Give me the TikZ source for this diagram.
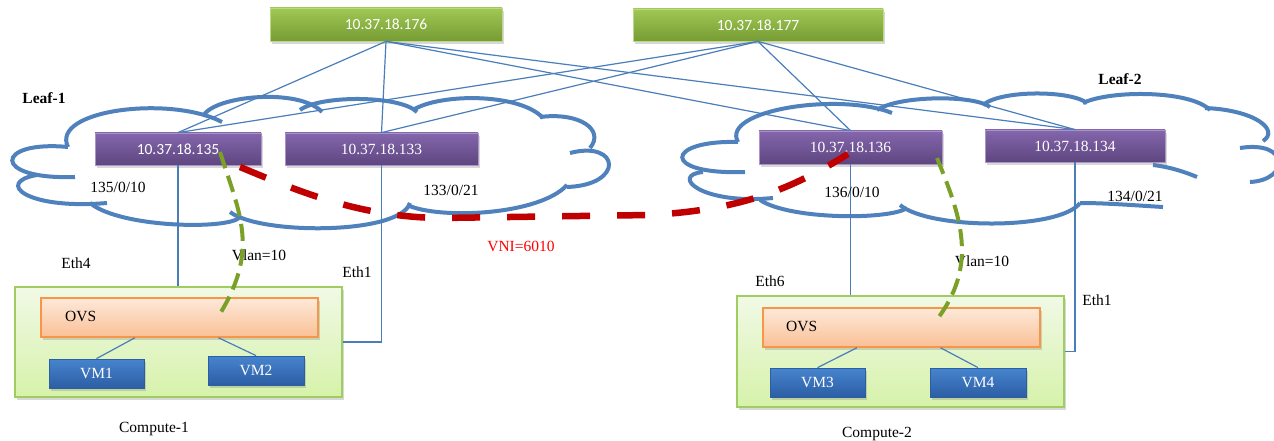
\documentclass[tikz,border=0pt]{standalone}
\usepackage{fontspec}
\setmainfont{Liberation Serif}
\newfontfamily\calibfont{Carlito}
\usetikzlibrary{calc, shadows}

\definecolor{linkblue}{RGB}{74,126,187}
\definecolor{cloudblue}{RGB}{79,129,189}
\definecolor{vnidash}{RGB}{192,0,0}
\definecolor{vnitext}{RGB}{255,0,0}
\definecolor{vlandash}{RGB}{122,160,40}
\definecolor{spinetop}{RGB}{160,200,84}
\definecolor{spinebot}{RGB}{118,156,52}
\definecolor{leaftop}{RGB}{132,102,172}
\definecolor{leafbot}{RGB}{94,70,128}
\definecolor{vmtop}{RGB}{70,132,206}
\definecolor{vmbot}{RGB}{44,94,164}
\definecolor{hosttop}{RGB}{241,249,230}
\definecolor{hostbot}{RGB}{214,242,170}
\definecolor{hostline}{RGB}{160,205,95}
\definecolor{ovstop}{RGB}{253,233,217}
\definecolor{ovsbot}{RGB}{250,192,150}
\definecolor{ovsline}{RGB}{247,150,70}

\newcommand\labelsize{\fontsize{15.5}{18}\selectfont}

\tikzset{
  lbl/.style={inner sep=0pt, font=\labelsize},
  boxshadow/.style={drop shadow={opacity=.3, shadow xshift=2pt, shadow yshift=-3pt}},
  spine/.style={boxshadow, top color=spinetop, bottom color=spinebot,
    draw=spinetop!70!white, line width=.8pt, text=white, inner sep=0pt,
    font=\calibfont\labelsize},
  leaf/.style={boxshadow, top color=leaftop, bottom color=leafbot,
    draw=leaftop!70!white, line width=.8pt, text=white, inner sep=0pt,
    minimum height=32pt, font=\labelsize},
  host/.style={boxshadow, top color=hosttop, bottom color=hostbot,
    draw=hostline, line width=1.5pt, minimum width=327pt},
  ovs/.style={boxshadow, top color=ovstop, bottom color=ovsbot,
    draw=ovsline, line width=1.5pt, minimum width=277pt, minimum height=39pt},
  vm/.style={boxshadow, top color=vmtop, bottom color=vmbot,
    draw=vmbot, line width=.8pt, text=white, inner sep=0pt,
    minimum width=95pt, minimum height=29pt, font=\labelsize},
  cloudline/.style={draw=cloudblue, line width=4pt},
  link/.style={draw=linkblue, line width=1.2pt},
  vni/.style={draw=vnidash, line width=6.5pt, dash pattern=on 28pt off 27pt},
  vlan/.style={draw=vlandash, line width=4pt, dash pattern=on 17pt off 8pt}
}

\begin{document}
\begin{tikzpicture}[x=1pt, y=-1pt]
\fill[white] (0,0) rectangle (1274,441);
\useasboundingbox (0,0) rectangle (1274,441);
% Cloud round Leaf-1
\draw[cloudline] (75,177) .. controls (-10,180) and (-5,140) .. (68,147);
\draw[cloudline] (68,147) .. controls (50,110) and (170,95) .. (222,122);
\draw[cloudline] (203,116) .. controls (215,95) and (300,88) .. (322,112);
\draw[cloudline] (300,110) .. controls (320,95) and (400,95) .. (417,112);
\draw[cloudline] (413,110) .. controls (440,93) and (520,93) .. (543,118);
\draw[cloudline] (540,117) .. controls (580,112) and (605,130) .. (590,148);
\draw[cloudline] (570,153) .. controls (620,140) and (625,185) .. (567,187);
\draw[cloudline] (567,185) .. controls (540,215) and (440,220) .. (407,205);
\draw[cloudline] (410,203) .. controls (400,235) and (260,235) .. (230,212);
\draw[cloudline] (240,217) .. controls (230,230) and (120,228) .. (90,203);
\draw[cloudline] (107,203) .. controls (25,210) and (-5,182) .. (37,175);
% Cloud round Leaf-2
\draw[cloudline] (745,172) .. controls (660,175) and (665,140) .. (738,142);
\draw[cloudline] (738,142) .. controls (720,110) and (840,92) .. (892,113);
\draw[cloudline] (877,110) .. controls (900,95) and (975,95) .. (990,107);
\draw[cloudline] (983,105) .. controls (1000,90) and (1070,90) .. (1087,103);
\draw[cloudline] (1083,103) .. controls (1110,90) and (1190,90) .. (1210,110);
\draw[cloudline] (1205,108) .. controls (1255,110) and (1280,130) .. (1263,141);
\draw[cloudline] (1240,148) .. controls (1290,140) and (1290,180) .. (1250,182);
\draw[cloudline] (1153,165) .. controls (1170,167) and (1185,172) .. (1197,177);
\draw[cloudline] (1163,207) .. controls (1130,205) and (1105,203) .. (1080,203);
\draw[cloudline] (1080,203) .. controls (1060,230) and (930,230) .. (900,205);
\draw[cloudline] (907,208) .. controls (890,220) and (790,220) .. (760,200);
\draw[cloudline] (773,198) .. controls (700,205) and (670,175) .. (703,172);
% Spine switches
\node[spine, minimum width=232pt, minimum height=33pt] (s176) at (386,24.5) {10.37.18.176};
\node[spine, minimum width=250pt, minimum height=32pt] (s177) at (758,25) {10.37.18.177};
% Leaf switches
\node[leaf, font=\calibfont\labelsize, minimum width=166pt] (l135) at (178,149) {10.37.18.135};
\node[leaf, minimum width=193pt] (l133) at (381.5,149) {10.37.18.133};
\node[leaf, minimum width=183pt, minimum height=33pt] (l136) at (850.5,147.5) {10.37.18.136};
\node[leaf, minimum width=180pt] (l134) at (1075,146) {10.37.18.134};
\node[lbl, font=\labelsize\bfseries] (leaf1) at (44,98) {Leaf-1};
\node[lbl, font=\labelsize\bfseries] (leaf2) at (1120,79) {Leaf-2};
% Compute nodes
\node[host, minimum height=110pt] (c1) at (178.5,342) {};
\node[host, minimum height=111pt] (c2) at (900.5,351.5) {};
\node[ovs] (ovs1) at (179.5,317.5) {};
\node[ovs] (ovs2) at (901.5,327.5) {};
\node[lbl, anchor=west] (ovs1t) at (65,316) {OVS};
\node[lbl, anchor=west] (ovs2t) at (786,326) {OVS};
\node[vm] (vm1) at (96.5,373.5) {VM1};
\node[vm, minimum width=96pt] (vm2) at (256,370.5) {VM2};
\node[vm] (vm3) at (817.5,382.5) {VM3};
\node[vm, minimum width=96pt] (vm4) at (978,382.5) {VM4};
\node[lbl] (comp1) at (154,429) {Compute-1};
\node[lbl] (comp2) at (877,434) {Compute-2};
% Spine to leaf links
\draw[link] (s176.south) -- (l135.north);
\draw[link] (s176.south) -- (l133.north);
\draw[link] (s176.south) -- (l136.north);
\draw[link] (s176.south) -- (l134.north);
\draw[link] (s177.south) -- (l135.north);
\draw[link] (s177.south) -- (l133.north);
\draw[link] (s177.south) -- (l136.north);
\draw[link] (s177.south) -- (l134.north);
% Leaf to compute links
\draw[link] (l135.south) -- (l135.south |- c1.north);
\draw[link] (l133.south) |- (c1.east);
\draw[link] (l136.south) -- (l136.south |- c2.north);
\draw[link] (l134.south) |- (c2.east);
% OVS to VM links
\draw[link] ($(ovs1.south west)!.34!(ovs1.south east)$) -- (vm1.north);
\draw[link] ($(ovs1.south west)!.64!(ovs1.south east)$) -- (vm2.north);
\draw[link] ($(ovs2.south west)!.34!(ovs2.south east)$) -- (vm3.north);
\draw[link] ($(ovs2.south west)!.64!(ovs2.south east)$) -- (vm4.north);
% Port and interface labels
\node[lbl] (p135) at (118,187) {135/0/10};
\node[lbl] (p133) at (451,190) {133/0/21};
\node[lbl] (p136) at (852,192) {136/0/10};
\node[lbl] (p134) at (1135,196) {134/0/21};
\node[lbl] (eth4) at (76,263) {Eth4};
\node[lbl] (eth1a) at (357,272) {Eth1};
\node[lbl] (eth6) at (770,281) {Eth6};
\node[lbl] (eth1b) at (1097,300) {Eth1};
\node[lbl] (vlan1) at (259,255) {Vlan=10};
\node[lbl] (vlan2) at (982,261) {Vlan=10};
\node[lbl, text=vnitext] (vni) at (521,246) {VNI=6010};
% VXLAN tunnel between the leaves
\draw[vni] (240,167) .. controls (300,192) and (360,217) .. (440,218)
  -- (650,215) .. controls (740,210) and (790,190) .. (848,154);
% VLAN paths down to the OVS
\draw[vlan] (220,152) .. controls (240,215) and (260,250) .. (218,317);
\draw[vlan] (937,158) .. controls (960,215) and (980,265) .. (935,322);
\end{tikzpicture}
\end{document}
